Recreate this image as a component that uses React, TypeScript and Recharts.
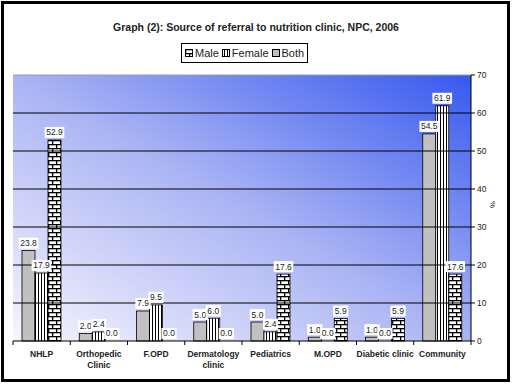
import React from "react";
import {
  BarChart,
  Bar,
  XAxis,
  YAxis,
  CartesianGrid,
  ReferenceLine,
  Legend,
  LabelList,
} from "recharts";

const categories = [
  "NHLP",
  "Orthopedic Clinic",
  "F.OPD",
  "Dermatology clinic",
  "Pediatrics",
  "M.OPD",
  "Diabetic clinic",
  "Community",
];
// bar order left to right: Both (grey), Female (stripes), Male (bricks)
const bothValues = [23.8, 2.0, 7.9, 5.0, 5.0, 1.0, 1.0, 54.5];
const femaleValues = [17.9, 2.4, 9.5, 6.0, 2.4, 0.0, 0.0, 61.9];
const maleValues = [52.9, 0.0, 0.0, 0.0, 17.6, 5.9, 5.9, 17.6];
const yTicks = [0, 10, 20, 30, 40, 50, 60, 70];
const gridValues = [10, 20, 30, 40, 50, 60];

const FONT = "Arial, 'Liberation Sans', sans-serif";
const PLOT_LEFT = 13;
const PLOT_RIGHT = 471;

const data = categories.map((name, i) => ({
  name,
  Both: bothValues[i],
  Female: femaleValues[i],
  Male: maleValues[i],
}));

const legendItems = [
  { name: "Male", fill: "url(#brick)" },
  { name: "Female", fill: "url(#stripes)" },
  { name: "Both", fill: "#c0c0c0" },
];

function renderValueLabel(props: any) {
  const { x = 0, y = 0, width = 0, value = 0 } = props;
  const text = Number(value).toFixed(1);
  const w = text.length * 4.4 + 2;
  const cx = x + width / 2;
  return (
    <g>
      <rect x={cx - w / 2} y={y - 13} width={w} height={11} fill="#fff" />
      <text
        x={cx}
        y={y - 4.5}
        textAnchor="middle"
        fontSize={8.5}
        fontFamily={FONT}
        fill="#222"
      >
        {text}
      </text>
    </g>
  );
}

// zero-valued bars keep their label but draw no rectangle
function BarShape(props: any) {
  const { x, y, width, height, fill } = props;
  if (!height || height < 0.5) return <g />;
  return (
    <rect x={x} y={y} width={width} height={height} fill={fill} stroke="#000" strokeWidth={0.8} />
  );
}

// category label plus a tick mark on the left edge of each band
function CategoryTick(props: any) {
  const { x, y, payload, index } = props;
  const band = (PLOT_RIGHT - PLOT_LEFT) / categories.length;
  const lines =
    payload.value === "Diabetic clinic" ? [payload.value] : String(payload.value).split(" ");
  return (
    <g>
      <line x1={x - band / 2} y1={y - 8} x2={x - band / 2} y2={y - 4} stroke="#000" />
      {index === categories.length - 1 && (
        <line x1={x + band / 2} y1={y - 8} x2={x + band / 2} y2={y - 4} stroke="#000" />
      )}
      {lines.map((l: string, k: number) => (
        <text
          key={k}
          x={x}
          y={y + 8 + k * 11}
          textAnchor="middle"
          fontSize={8.5}
          fontWeight="bold"
          fontFamily={FONT}
          fill="#222"
        >
          {l}
        </text>
      ))}
    </g>
  );
}

function LegendBox() {
  return (
    <div
      style={{
        border: "1px solid #000",
        background: "#fff",
        display: "flex",
        alignItems: "center",
        gap: 3,
        height: 18,
        padding: "0 3px",
        fontFamily: FONT,
        fontSize: 11,
        color: "#222",
        whiteSpace: "nowrap",
      }}
    >
      {legendItems.map((it) => (
        <span key={it.name} style={{ display: "flex", alignItems: "center", gap: 2 }}>
          <svg width={8} height={8}>
            <rect x={0.5} y={0.5} width={7} height={7} fill={it.fill} stroke="#000" />
          </svg>
          {it.name}
        </span>
      ))}
    </div>
  );
}

export default function App() {
  return (
    <div style={{ position: "absolute", left: 0, top: 0, width: 512, height: 384, background: "#fff" }}>
      <div
        style={{
          position: "absolute",
          left: 1,
          top: 1,
          width: 503,
          height: 375,
          border: "3px solid #000",
        }}
      />
      <div style={{ position: "absolute", left: 0, top: 0 }}>
        <BarChart
          width={512}
          height={384}
          data={data}
          margin={{ top: 75, right: 11, left: PLOT_LEFT, bottom: 13 }}
          barGap={0}
          barSize={13}
        >
          <defs>
            <linearGradient id="bg" x1="0" y1="1" x2="1" y2="0">
              <stop offset="0" stopColor="#f6f6fd" />
              <stop offset="0.5" stopColor="#aab4f4" />
              <stop offset="1" stopColor="#3659ee" />
            </linearGradient>
            <pattern id="stripes" width="3" height="4" patternUnits="userSpaceOnUse">
              <rect width="3" height="4" fill="#fff" />
              <rect x="2" width="1" height="4" fill="#000" />
            </pattern>
            <pattern id="brick" width="8" height="8" patternUnits="userSpaceOnUse">
              <rect width="8" height="8" fill="#fff" />
              <rect y="0" width="8" height="1.3" fill="#000" />
              <rect y="4" width="8" height="1.3" fill="#000" />
              <rect x="0" y="0" width="1.3" height="4" fill="#000" />
              <rect x="4" y="4" width="1.3" height="4" fill="#000" />
            </pattern>
          </defs>
          <text
            x={256}
            y={31}
            textAnchor="middle"
            fontSize={10.5}
            fontWeight="bold"
            fontFamily={FONT}
            fill="#222"
          >
            Graph (2): Source of referral to nutrition clinic, NPC, 2006
          </text>
          <CartesianGrid
            horizontal={false}
            vertical={false}
            fill="url(#bg)"
            fillOpacity={1}
          />
          {gridValues.map((v) => (
            <ReferenceLine key={v} y={v} stroke="#000" strokeWidth={1} />
          ))}
          <ReferenceLine y={70} stroke="#9a9ab0" strokeWidth={1} />
          <XAxis
            dataKey="name"
            interval={0}
            height={30}
            axisLine={{ stroke: "#000" }}
            tickLine={false}
            tick={<CategoryTick />}
          />
          <YAxis
            orientation="right"
            domain={[0, 70]}
            ticks={yTicks}
            width={30}
            axisLine={{ stroke: "#000" }}
            tickLine={{ stroke: "#000" }}
            tickSize={4}
            tick={{ fontSize: 8.5, fontFamily: FONT, fill: "#222" }}
            label={{
              value: "%",
              angle: 90,
              position: "insideRight",
              offset: 8,
              style: { fontSize: 8, fontFamily: FONT, fill: "#222" },
            }}
          />
          <Legend
            verticalAlign="middle"
            align="center"
            layout="horizontal"
            wrapperStyle={{ top: 43, left: 181, width: "auto" }}
            content={() => <LegendBox />}
          />
          <Bar dataKey="Both" fill="#c0c0c0" minPointSize={0.01} shape={<BarShape />} isAnimationActive={false}>
            <LabelList dataKey="Both" content={renderValueLabel} />
          </Bar>
          <Bar dataKey="Female" fill="url(#stripes)" minPointSize={0.01} shape={<BarShape />} isAnimationActive={false}>
            <LabelList dataKey="Female" content={renderValueLabel} />
          </Bar>
          <Bar dataKey="Male" fill="url(#brick)" minPointSize={0.01} shape={<BarShape />} isAnimationActive={false}>
            <LabelList dataKey="Male" content={renderValueLabel} />
          </Bar>
        </BarChart>
      </div>
    </div>
  );
}
